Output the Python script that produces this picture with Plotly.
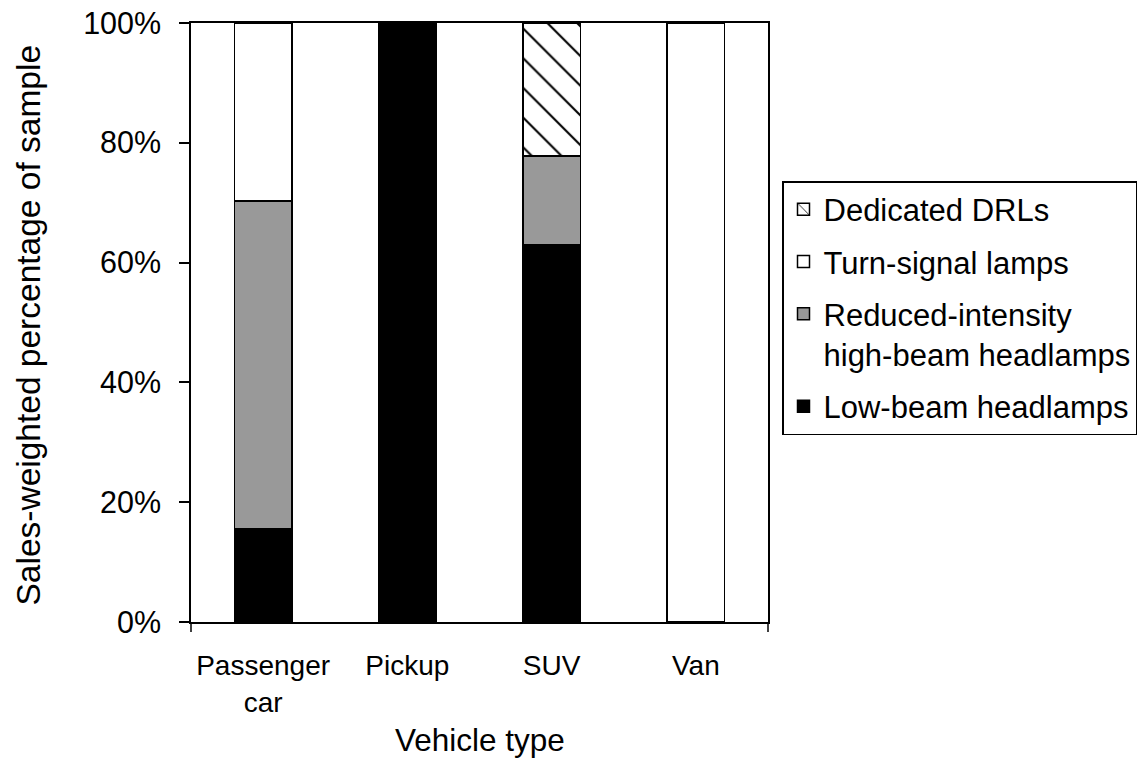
import plotly.graph_objects as go

categories = ["Passenger<br>car", "Pickup", "SUV", "Van"]
low_beam = [15.6, 100.0, 62.9, 0.0]
reduced_high = [54.7, 0.0, 14.9, 0.0]
turn_signal = [29.7, 0.0, 0.0, 100.0]
dedicated_drl = [0.0, 0.0, 22.2, 0.0]
y_tick_values = [0, 20, 40, 60, 80, 100]
y_tick_labels = ["0%", "20%", "40%", "60%", "80%", "100%"]

series = [
    ("Low-beam headlamps", low_beam, "black", None),
    ("Reduced-intensity<br>high-beam headlamps", reduced_high, "#999999", None),
    ("Turn-signal lamps", turn_signal, "white", None),
    ("Dedicated DRLs", dedicated_drl, "white", "\\"),
]

FONT = "Liberation Sans, Arial, sans-serif"
W, H = 1143, 764
ML, MR, MT, MB = 191, 5, 23, 142
inner_w = W - ML - MR
plot_right = 768
dom_end = (plot_right - ML) / inner_w
legend_x = (782 - ML) / inner_w

fig = go.Figure()
n = len(series)
for i, (name, vals, color, pat) in enumerate(series):
    marker = dict(color=color, line=dict(color="black", width=1.5))
    if pat:
        marker["pattern"] = dict(shape=pat, fgcolor="#000000", fgopacity=1,
                                 bgcolor="white", fillmode="overlay",
                                 size=21, solidity=0.1)
    fig.add_trace(go.Bar(x=categories, y=vals, name=name, marker=marker,
                         legendgroup=f"g{i}", legendrank=n - i))

fig.update_layout(
    barmode="stack",
    bargap=0.6,
    width=W, height=H,
    margin=dict(l=ML, r=MR, t=MT, b=MB),
    paper_bgcolor="white", plot_bgcolor="white",
    font=dict(family=FONT, size=30, color="black"),
    showlegend=True,
    legend=dict(
        x=legend_x, xanchor="left", y=(H - MB - 181) / (H - MT - MB), yanchor="top",
        traceorder="grouped", tracegroupgap=9,
        bordercolor="black", borderwidth=1.5, bgcolor="white",
        font=dict(family=FONT, size=31, color="black"),
        valign="top",
    ),
    xaxis=dict(
        domain=[0, dom_end],
        showline=True, linecolor="black", linewidth=1.5, mirror=True,
        ticks="", showgrid=False,
        tickfont=dict(family=FONT, size=28, color="black"),
        ticklabelstandoff=18,
    ),
    yaxis=dict(
        range=[0, 100], tickmode="array", tickvals=y_tick_values,
        ticktext=y_tick_labels,
        showline=True, linecolor="black", linewidth=1.5, mirror=True,
        ticks="outside", ticklen=10, tickwidth=1.5, tickcolor="black",
        showgrid=False, zeroline=False,
        tickfont=dict(family=FONT, size=30.5, color="black"),
        ticklabelstandoff=12,
    ),
    annotations=[
        dict(text="Vehicle type", xref="paper", yref="paper", x=dom_end / 2, y=0,
             xanchor="center", yanchor="middle", yshift=-118, showarrow=False,
             font=dict(family=FONT, size=31.5, color="black")),
        dict(text="Sales-weighted percentage of sample", xref="paper", yref="paper",
             x=0, y=0.5, xanchor="center", yanchor="middle", xshift=-163, yshift=-3,
             textangle=-90, showarrow=False,
             font=dict(family=FONT, size=33.5, color="black")),
    ],
    shapes=[
        dict(type="line", xref="paper", yref="paper", x0=0, x1=0,
             ysizemode="pixel", yanchor=0, y0=0, y1=-10,
             line=dict(color="black", width=1.5)),
        dict(type="line", xref="paper", yref="paper", x0=dom_end, x1=dom_end,
             ysizemode="pixel", yanchor=0, y0=0, y1=-10,
             line=dict(color="black", width=1.5)),
    ],
)

fig.write_html("out.html")
